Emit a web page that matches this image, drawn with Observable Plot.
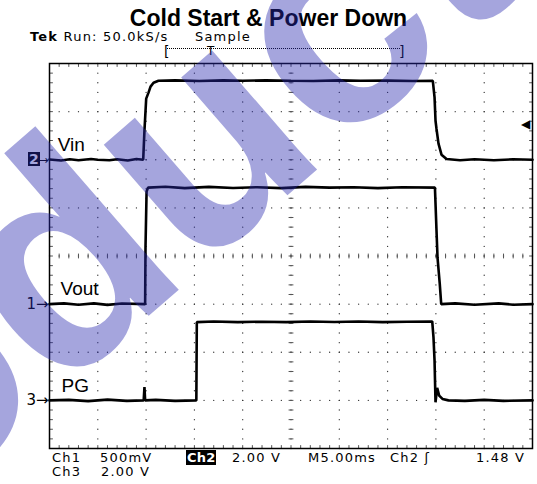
<!DOCTYPE html>
<html>
<head>
<meta charset="utf-8">
<script src="https://cdn.jsdelivr.net/npm/d3@7"></script>
<script src="https://cdn.jsdelivr.net/npm/@observablehq/plot@0.6"></script>
<style>
  html, body { margin: 0; padding: 0; background: #fff; }
  #wrap { position: relative; width: 537px; height: 484px; overflow: hidden; font-family: "Liberation Sans", Arial, sans-serif; }
  #chart svg { position: absolute; left: 0; top: 0; }
  .abs { position: absolute; white-space: pre; color: #000; line-height: 13px; }
  #title { left: 0; width: 537px; text-align: center; top: 7px; font-size: 23px; line-height: 22px; font-weight: bold; }
  .scr { font-family: "DejaVu Sans", sans-serif; font-size: 13px; letter-spacing: 1.2px; }
  #wm { position: absolute; left: 0; top: 0; width: 537px; height: 484px; pointer-events: none; }
  #bracket { position: absolute; left: 164px; top: 44px; width: 240px; height: 14px; }
</style>
</head>
<body>
<div id="wrap">
  <div id="chart"></div>
  <div class="abs" id="title">Cold Start &amp; Power Down</div>
  <div class="abs scr" style="left:30px; top:30px;"><b>Tek</b> Run: 50.0kS/s</div>
  <div class="abs scr" style="left:195px; top:30px;">Sample</div>
  <svg id="bracket" width="240" height="14">
    <line x1="3" y1="4.5" x2="237" y2="4.5" stroke="#000" stroke-width="1" stroke-dasharray="1,1"/>
    <text x="0" y="12" font-family="DejaVu Sans, sans-serif" font-size="14">[</text>
    <text x="43" y="11" font-family="DejaVu Sans, sans-serif" font-size="12">T</text>
    <text x="235" y="12" font-family="DejaVu Sans, sans-serif" font-size="14">]</text>
  </svg>
  <div class="abs scr" style="left:52px; top:451px;">Ch1</div>
  <div class="abs scr" style="left:100px; top:451px;">500mV</div>
  <div class="abs scr" style="left:186px; top:450px; background:#000; color:#fff; font-weight:bold; padding:0 1px; line-height:15px; letter-spacing:0.2px;">Ch2</div>
  <div class="abs scr" style="left:232px; top:451px;">2.00 V</div>
  <div class="abs scr" style="left:308px; top:451px;">M5.00ms</div>
  <div class="abs scr" style="left:390px; top:451px;">Ch2 ʃ</div>
  <div class="abs scr" style="left:476px; top:451px;">1.48 V</div>
  <div class="abs scr" style="left:52px; top:465px;">Ch3</div>
  <div class="abs scr" style="left:101px; top:465px;">2.00 V</div>
  <div class="abs scr" id="m2" style="background:#000; color:#fff; font-weight:bold; padding:0 1px; line-height:14px; font-size:14px; letter-spacing:0;">2</div>
  <svg id="wm" width="537" height="484">
    <text x="-322" y="725" transform="rotate(-41 -322 725)" text-anchor="start"
      font-family="Liberation Sans, Arial, sans-serif" font-weight="bold" font-size="300"
      fill="rgb(40,40,175)" fill-opacity="0.42">Product</text>
  </svg>
</div>
<script>
// ---- scope settings ----
const timePerDiv = 5;          // ms/div
const divsX = 10, divsY = 8;
const ch1 = {name: "Vout", voltsPerDiv: 0.5, offsetDiv: -1};
const ch2 = {name: "Vin",  voltsPerDiv: 2.0, offsetDiv: 2};
const ch3 = {name: "PG",   voltsPerDiv: 2.0, offsetDiv: -3};
const triggerLevel = 1.48;     // V on Ch2

// ---- traces: time (ms), volts ----
const vinT = [0, 1.2, 2.1, 3, 4.3, 5, 6.2, 7, 8.1, 9.0, 9.7, 9.83, 10.01, 10.25, 10.46, 10.77, 11.28, 13, 15.5, 18, 20, 22.4, 25, 27.3, 30, 32.2, 35, 37.6, 39.68, 39.86, 39.96, 40.06, 40.27, 40.58, 41.1, 42.5, 44, 46, 48, 50];
const vinV = [0.01, -0.03, 0.02, -0.02, 0.03, 0.0, -0.02, 0.02, -0.03, 0.03, 0.0, 1.21, 2.54, 2.79, 3.04, 3.2, 3.28, 3.30, 3.27, 3.30, 3.28, 3.30, 3.28, 3.27, 3.30, 3.28, 3.29, 3.27, 3.28, 2.59, 1.62, 1.29, 0.67, 0.21, 0.03, -0.02, 0.02, -0.02, 0.02, 0.0];

const voutT = [0, 1.5, 3, 4.6, 6, 7.5, 9.9, 9.94, 10.05, 10.2, 12, 14, 16.5, 19, 21.5, 24, 26.5, 29, 31.5, 34, 36.5, 39.9, 40.06, 40.17, 40.4, 40.55, 42, 44, 46.5, 48, 50];
const voutV = [0.0, 0.008, -0.006, 0.008, -0.008, 0.006, 0.0, 0.6, 1.17, 1.21, 1.22, 1.205, 1.218, 1.207, 1.215, 1.205, 1.218, 1.21, 1.215, 1.205, 1.215, 1.21, 0.77, 0.48, 0.21, 0.0, 0.008, -0.006, 0.008, -0.006, 0.0];

const pgT = [0, 2, 4, 6, 8, 9.75, 9.83, 9.9, 11, 13, 15.2, 15.25, 17, 19.5, 22, 24.5, 27, 29.5, 32, 34.5, 37, 39.62, 39.75, 39.86, 39.96, 40.13, 40.34, 40.68, 41.3, 43, 45, 47, 50];
const pgV = [0.0, 0.02, -0.03, 0.03, -0.02, 0.0, 0.55, 0.0, 0.02, -0.02, 0.0, 3.25, 3.28, 3.25, 3.27, 3.25, 3.28, 3.26, 3.28, 3.25, 3.27, 3.28, 2.62, 1.65, -0.08, 0.52, 0.2, 0.06, 0.0, -0.02, 0.02, -0.02, 0.0];

// ---- graticule ----
const majorX = d3.range(0, divsX * timePerDiv + 0.001, timePerDiv);
const majorY = d3.range(-divsY / 2, divsY / 2 + 0.001, 1);
const minorX = d3.range(0, 50.001, 1);
const minorY = d3.range(-4, 4.001, 0.2);

function toRows(ts, vs, ch) {
  return ts.map((t, i) => ({t, div: ch.offsetDiv + vs[i] / ch.voltsPerDiv, ch: ch.name}));
}
const traces = [...toRows(vinT, vinV, ch2), ...toRows(voutT, voutV, ch1), ...toRows(pgT, pgV, ch3)];

const innerX = majorX.filter(x => x > 0 && x < 50 && x !== 25);
const innerY = majorY.filter(y => y > -4 && y < 4 && y !== 0);
const gridDots = [];
for (const x of innerX) for (const y of minorY) gridDots.push({t: x, div: y});
for (const y of innerY) for (const x of minorX) gridDots.push({t: x, div: y});
for (const y of minorY) gridDots.push({t: 25, div: y});
for (const x of minorX) gridDots.push({t: x, div: 0});

const labels = [
  {t: 0.85, div: ch2.offsetDiv + 0.31, text: "Vin"},
  {t: 1.15, div: ch1.offsetDiv + 0.31, text: "Vout"},
  {t: 1.25, div: ch3.offsetDiv + 0.31, text: "PG"}
];

const plot = Plot.plot({
  width: 537,
  height: 484,
  marginLeft: 49,
  marginRight: 5,
  marginTop: 63,
  marginBottom: 36,
  x: {domain: [0, 50], axis: null},
  y: {domain: [-4, 4], axis: null},
  style: {background: "transparent", overflow: "visible"},
  marks: [
    Plot.dot(gridDots, {x: "t", y: "div", r: 0.65, fill: "#333", stroke: null}),
    // center crosshair ticks
    Plot.link(minorX, {x1: d => d, x2: d => d, y1: -0.05, y2: 0.05, stroke: "#555", strokeWidth: 1}),
    Plot.link(minorY, {x1: 24.75, x2: 25.25, y1: d => d, y2: d => d, stroke: "#555", strokeWidth: 1}),
    // frame edge ticks
    Plot.link(minorX, {x1: d => d, x2: d => d, y1: 4, y2: 3.93, stroke: "#555"}),
    Plot.link(minorX, {x1: d => d, x2: d => d, y1: -4, y2: -3.93, stroke: "#555"}),
    Plot.link(minorY, {x1: 0, x2: 0.35, y1: d => d, y2: d => d, stroke: "#555"}),
    Plot.link(minorY, {x1: 50, x2: 49.65, y1: d => d, y2: d => d, stroke: "#555"}),
    Plot.frame({stroke: "#000", strokeWidth: 1.5}),
    Plot.line(traces, {x: "t", y: "div", z: "ch", stroke: "#000", strokeWidth: 2.6, curve: "linear", strokeLinejoin: "miter"}),
    Plot.text(labels, {x: "t", y: "div", text: "text", fontSize: 19, textAnchor: "start", fill: "#000", fontFamily: "Liberation Sans, Arial, sans-serif"}),
    // channel markers
    Plot.text([ch1, ch3], {x: 0, y: "offsetDiv", text: d => (d === ch1 ? "1" : "3") + "→", textAnchor: "end", dx: -1, fontSize: 15, fill: "#000", fontFamily: "DejaVu Sans, sans-serif"}),
    Plot.text([ch2], {x: 0, y: "offsetDiv", text: d => "→", textAnchor: "end", dx: -1, fontSize: 12, fill: "#000", fontFamily: "DejaVu Sans, sans-serif"}),
    // trigger level marker
    Plot.text([triggerLevel], {x: 50, y: d => ch2.offsetDiv + d / ch2.voltsPerDiv, text: d => "◀", textAnchor: "end", dx: -3, fontSize: 12, fill: "#000"}),
  ]
});
document.getElementById("chart").appendChild(plot);

// place the inverted "2" channel badge at Ch2's ground level
const ys = plot.scale("y");
const m2 = document.getElementById("m2");
m2.style.left = "28px";
m2.style.top = (ys.apply(ch2.offsetDiv) - 7) + "px";
</script>
</body>
</html>
